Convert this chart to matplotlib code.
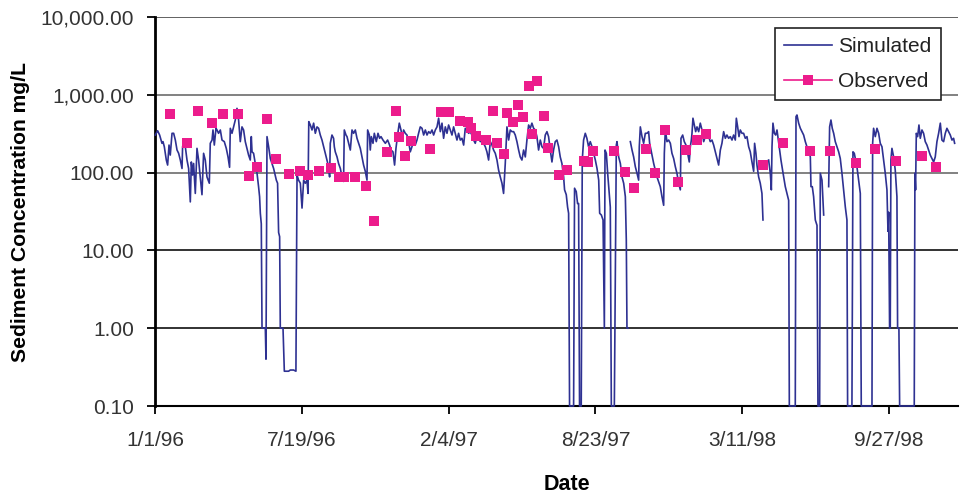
import numpy as np
import matplotlib
matplotlib.use("Agg")
import matplotlib.pyplot as plt
from matplotlib.lines import Line2D
from matplotlib.ticker import FixedLocator, FuncFormatter

# ---- data (x = days since 1/1/96, y = sediment concentration mg/L) ----
sim_day = [0.4, 3.6, 6.3, 9.5, 10.9, 12.7, 15.4, 17.2, 19.1, 20.8, 23.2, 25.4, 27.7, 30, 32.2, 34.5, 36.8, 37.6,
           39, 41.3, 43.6, 45.8, 48.1, 49.5, 51.2, 52.6, 54.9, 57.2, 59.4, 61.7, 64, 66.2, 68.5, 70.8, 74, 75.3,
           77.7, 79, 80.8, 83.1, 84.5, 86.6, 89, 91.3, 94.4, 97.1, 99.5, 101.6, 102.6, 104.9, 107.1, 109.4, 111.7,
           113.9, 116.2, 118.5, 120.7, 123, 125.3, 127.5, 129.8, 131.2, 132.2, 134.3, 136.6, 139, 141.1, 142.5,
           143.5, 144.8, 145.8, 150.3, 151.2, 152.6, 154.8, 157.1, 159.4, 161.6, 165.3, 167, 168.4, 169.8, 170.7,
           174.4, 176.2, 182, 184.3, 188.8, 192, 193.5, 195.6, 198, 200.3, 202.5, 204.8, 207, 208.5, 209.5, 211.6,
           213.9, 216.1, 218.4, 220.7, 222.9, 225.2, 227.5, 229.7, 232, 234.3, 236.5, 237.9, 238.8, 241.1, 243.3,
           244.3, 245.6, 248, 250.1, 252.5, 254.8, 256.9, 257.9, 260.2, 261.6, 263.8, 266.1, 268.4, 270.6, 272.9,
           275.2, 277.4, 279.7, 282, 284.2, 286.5, 288.8, 289.7, 292, 293.3, 294.7, 297, 298.8, 301.5, 303.8, 306,
           307.9, 310.6, 313.8, 316.9, 319.6, 321.5, 324.2, 326.4, 328.3, 330.5, 332.8, 335.1, 337.3, 338.7, 341,
           343.3, 345.5, 347.8, 350.1, 352.3, 354.6, 356.9, 359.1, 361.4, 363.8, 366, 368.3, 370.6, 372.8, 375.1,
           377.4, 379.6, 381.9, 384.2, 386.4, 388.7, 391, 393.2, 395.5, 397.8, 400, 402.3, 404.6, 406.8, 409.1,
           411.4, 413.6, 415.9, 418.2, 420.5, 422.7, 425, 427.3, 429.5, 431.8, 434.1, 436.3, 438.6, 440.9, 443.2,
           445.4, 447.7, 450, 452.2, 454.5, 456.8, 459.1, 461.3, 463.6, 465.9, 468.1, 470.4, 472.7, 474.9, 477.2,
           479.5, 481.8, 484, 486.3, 488.6, 490.8, 493.1, 495.4, 497.6, 499.9, 502.2, 504.5, 506.7, 509, 511.3,
           513.5, 515.8, 518.1, 520.3, 522.6, 524.9, 527.2, 529.4, 531.7, 534, 536.2, 538.5, 540.8, 543, 545.3,
           547.6, 549.9, 552.1, 554.4, 556.7, 558, 560.3, 562.1, 563.5, 564.8, 570.3, 571.6, 573.9, 575.7, 577.1,
           578.4, 580.7, 582.1, 583.9, 586.2, 588.4, 590.7, 593, 595.4, 597.6, 599.9, 602.2, 604.5, 605.8, 608.1,
           610.4, 612.2, 613.1, 614.9, 616.7, 618.5, 620.3, 621.7, 625.8, 627.6, 628.5, 629.4, 631.7, 634, 636.2,
           638.5, 640.8, 642.1, 643, 644.4, 646, 647.6, 649.9, 652.1, 654.4, 656.7, 658.9, 659.8, 661.2, 663.5,
           665.7, 668, 670.3, 672.5, 673.9, 675.7, 679.4, 683.9, 688.4, 690.7, 693, 693.9, 695.3, 697.5, 699.8,
           702.1, 704.3, 706.6, 708.9, 711.1, 713.4, 715.7, 716.6, 718.9, 721.1, 723.4, 725.7, 727.9, 729.3, 730.7,
           731.6, 732.9, 734.7, 736.6, 738.4, 740.7, 742.9, 745.2, 747.5, 749.7, 752, 754.3, 756.5, 758.8, 761.1,
           763.4, 765.6, 767.9, 770.2, 772.4, 774.7, 777, 779.2, 781.5, 783.8, 786.1, 788.3, 790.6, 792, 793.8,
           795.6, 797.4, 799.7, 801.9, 804.2, 806.5, 808.8, 811, 813.3, 815.6, 816.9, 818.7, 820.1, 822.4, 824.6,
           826.9, 828.3, 832, 836, 838.3, 839.7, 840.6, 841.9, 843.8, 845.6, 847.4, 849.7, 851, 852.8, 854.6,
           856.5, 858.7, 861, 863.3, 864.2, 872.3, 873.3, 874.6, 876.9, 879.2, 881.4, 883.7, 886, 888.2, 890.5,
           892.8, 893.7, 895.5, 897.3, 899.6, 901.9, 903.2, 905.5, 906.4, 908.7, 911, 914, 917.8, 919.1, 920.9,
           922.7, 924.6, 926.8, 929.1, 931.4, 933.6, 935.9, 938.2, 940.5, 942.7, 943.6, 949.5, 950.9, 952.7,
           954.5, 956.3, 958.6, 960.9, 962.2, 976.8, 977.7, 979, 981.3, 983.6, 985.9, 988.1, 990.4, 992.7, 994.9,
           997.2, 998.6, 999.5, 1000.8, 1001.7, 1002.6, 1004, 1006.3, 1008.5, 1010.8, 1011.7, 1013.5, 1014.5,
           1034.4, 1035.3, 1036.2, 1037.2, 1039, 1040.8, 1042.6, 1044.9, 1047.1, 1049.4, 1051.7, 1054, 1056.2,
           1058.5, 1060.8, 1063, 1065.3, 1067.6, 1069.9, 1072.1, 1074.4, 1076.7, 1078.9, 1081.2, 1083.5, 1085.8,
           1088, 1089.4]
sim_val = [304, 345, 304, 238, 250, 215, 145, 125, 226, 168, 320, 320, 262, 195, 177, 145, 113, 215,
           250, 215, 145, 113, 42, 137, 93, 131, 54, 205, 145, 88, 52, 177, 145, 88, 73, 238,
           262, 353, 226, 371, 353, 320, 353, 262, 250, 205, 159, 117, 371, 320, 387, 474, 670,
           474, 250, 387, 353, 250, 205, 168, 145, 290, 185, 177, 131, 98, 66, 49,
           30, 22, 1.0, 1.0, 0.4, 290, 215, 152, 131, 113, 80, 73, 17, 15, 1.0,
           1.0, 0.28, 0.28, 0.29, 0.29, 0.28, 93, 80, 73, 35, 80, 73, 80, 54, 452, 409,
           353, 432, 320, 387, 371, 304, 262, 215, 177, 145, 119, 88, 238, 304, 276,
           215, 185, 159, 131, 113, 88, 77, 353, 304, 290, 238, 195, 353, 320, 353,
           276, 238, 205, 159, 125, 104, 80, 353, 304, 195, 290, 238, 320, 250, 320, 276,
           290, 262, 238, 262, 226, 195, 185, 125, 205, 304, 432, 353, 276, 353, 320,
           304, 250, 185, 215, 250, 226, 262, 320, 387, 371, 304, 353, 304, 336, 320,
           353, 304, 353, 387, 500, 336, 432, 276, 387, 320, 409, 353, 304, 387, 320,
           262, 320, 262, 276, 226, 371, 353, 320, 336, 304, 262, 238, 290, 276, 250,
           262, 238, 215, 185, 145, 250, 226, 195, 177, 145, 108, 88, 73, 54, 131,
           387, 262, 353, 336, 336, 304, 250, 195, 159, 145, 195, 159, 262, 409, 371,
           432, 371, 353, 290, 195, 262, 215, 205, 304, 336, 290, 195, 137, 195, 250,
           262, 215, 159, 131, 88, 60, 52, 36, 30, 0.1, 0.1, 63, 57, 40, 40,
           0.1, 0.1, 145, 262, 320, 276, 215, 250, 215, 177, 145, 113, 80, 30, 28.5,
           24.6, 1.0, 195, 177, 98, 60, 36, 0.1, 0.1, 13.6, 226, 250, 159, 131, 88,
           73, 49, 13.6, 1.0, 1.0, np.nan, 250, 195, 159, 119, 98, 80, 215, 387, 290,
           238, 320, 320, 336, 238, 195, 131, 88, 66, 49, 38, 177, 353, 250, 262,
           238, 177, 152, 119, 98, 73, 60, 276, 304, 250, 226, 177, 137, 215, 262,
           320, 500, 409, 336, 387, 336, 432, 353, 250, 290, 304, 290, 250, 262, 226,
           185, 152, 125, 195, 238, 336, 276, 304, 276, 290, 262, 304, 262, 500, 387,
           290, 353, 320, 320, 276, 290, 215, 185, 137, 104, 238, 177, 125, 88, 73,
           54, 24.6, np.nan, 145, 98, 60, 215, 432, 320, 304, 353, 238, 195, 145, 113,
           88, 66, 54, 44, 0.1, 0.1, 524, 550, 432, 371, 336, 304, 250, 215, 195,
           159, 66, 66, 49, 24.6, 21, 0.1, 0.1, 98, 80, 28.5, np.nan, 66, 387, 474,
           371, 320, 250, 215, 185, 152, 98, 60, 36, 24.6, 0.1, 0.1, 185, 177,
           145, 119, 80, 54, 0.1, 0.1, 238, 371, 290, 371, 320, 238, 215, 145, 98,
           60, 17.6, 31, 1.0, 1.0, 145, 205, 159, 108, 49, 1.0, 1.0, 0.1,
           0.1, 98, 60, 320, 290, 409, 276, 353, 320, 250, 226, 195, 168,
           152, 137, 159, 250, 320, 432, 262, 250, 320, 371, 336, 304, 262,
           276, 238]

obs_day = [20, 44, 59, 78, 92, 113, 128, 139, 152, 165, 183, 197, 208, 223, 240, 250, 257, 273, 287, 299,
           316, 328, 332, 340, 349, 375, 389, 400, 416, 426, 431, 438, 451, 461, 466, 476, 479, 488, 495, 502,
           509, 514, 521, 530, 535, 550, 561, 584, 590, 597, 626, 640, 652, 669, 681, 695, 712, 724, 738, 751,
           828, 856, 893, 919, 955, 981, 1010, 1045, 1064]
obs_val = [566, 238, 625, 437, 566, 566, 91, 119, 484, 148, 97, 105, 93, 105, 116, 87, 87, 87, 68, 24,
           182, 625, 289, 163, 257, 200, 596, 596, 460, 448, 374, 296, 263, 617, 240, 174, 583, 448, 738, 519,
           1297, 313, 1503, 534, 210, 93, 108, 141, 137, 190, 190, 102, 64, 200, 98, 355, 76, 195, 260, 310,
           126, 238, 191, 191, 134, 204, 142, 163, 119]

x_ticks = [0, 200, 400, 600, 800, 1000]
x_tick_labels = ["1/1/96", "7/19/96", "2/4/97", "8/23/97", "3/11/98", "9/27/98"]
y_ticks = [0.1, 1, 10, 100, 1000, 10000]

# ---- style ----
plt.rcParams['font.family'] = ['Liberation Sans', 'DejaVu Sans']
SIM_COLOR = '#2E3192'
OBS_COLOR = '#EC1C8C'

fig = plt.figure(figsize=(9.63, 4.97), dpi=100)
ax = fig.add_axes([155/963, 91/497, 803/963, 389/497])

ax.plot(sim_day, sim_val, color=SIM_COLOR, lw=1.2, clip_on=False, zorder=3)
ax.plot(obs_day, obs_val, ls='none', marker='s', ms=7.4, color=OBS_COLOR,
        markeredgewidth=0, zorder=4)

ax.set_yscale('log')
ax.set_ylim(0.1, 10000)
ax.set_xlim(0, 1094)

ax.yaxis.set_major_locator(FixedLocator(y_ticks))
ax.yaxis.set_minor_locator(FixedLocator([]))
ax.yaxis.set_major_formatter(FuncFormatter(lambda v, p: f"{v:,.2f}"))
ax.set_xticks(x_ticks)
ax.set_xticklabels(x_tick_labels)

ax.tick_params(axis='y', direction='out', length=6, width=1.3, pad=9,
               labelsize=15, labelcolor='#333333')
ax.tick_params(axis='x', direction='out', length=6, width=1.3, pad=12,
               labelsize=15, labelcolor='#333333')

for s in ['top', 'right']:
    ax.spines[s].set_visible(False)
ax.spines['left'].set_linewidth(2.0)
ax.spines['bottom'].set_linewidth(1.5)

grid_colors = ['#222222', '#222222', '#222222', '#777777', '#777777', '#555555']
for yv, gc in zip(y_ticks[1:], grid_colors[1:]):
    ax.axhline(yv, color=gc, lw=1.3, zorder=1)

ax.set_ylabel("Sediment Concentration mg/L", fontsize=15.2, fontweight='bold', labelpad=8)
fig.text(567/963, 1 - 484/497, "Date", ha='center', va='center', fontsize=15.5, fontweight='bold')

handles = [Line2D([], [], color=SIM_COLOR, lw=1.2),
           Line2D([], [], color=OBS_COLOR, lw=1.2, marker='s', ms=7.4, markeredgewidth=0)]
leg = ax.legend(handles, ["Simulated", "Observed"], loc='upper right',
                bbox_to_anchor=(941/963, 1 - 28/497), bbox_transform=fig.transFigure,
                borderaxespad=0, fontsize=15, frameon=True, fancybox=False,
                edgecolor='#222222', framealpha=1, handlelength=2.3, handletextpad=0.3,
                labelspacing=0.75, borderpad=0.45)
leg.get_frame().set_linewidth(1.2)
for t in leg.get_texts():
    t.set_color('#222222')

fig.savefig("out.png", dpi=100)
